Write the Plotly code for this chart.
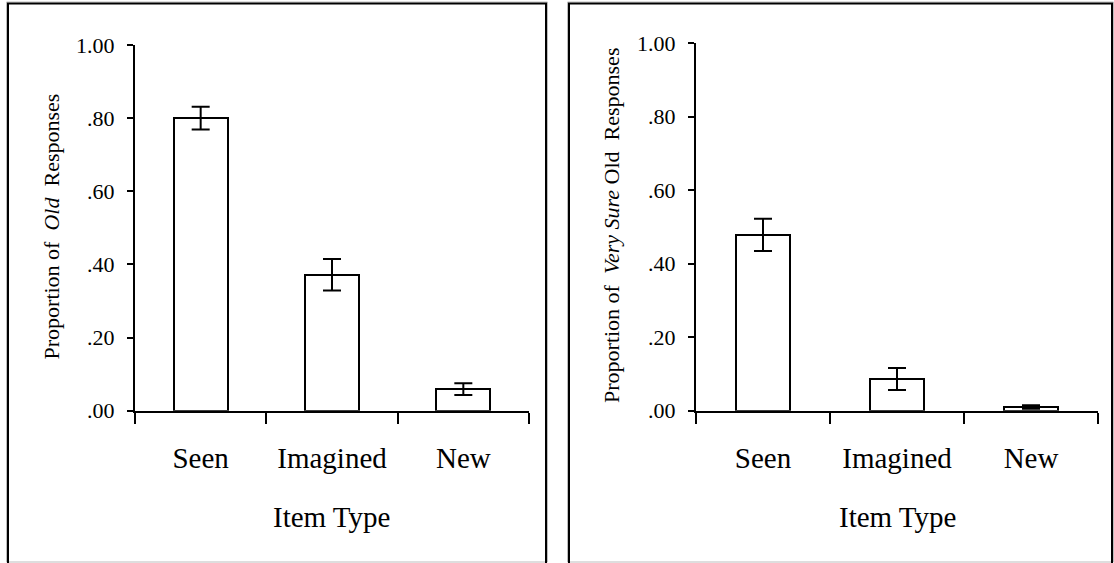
import plotly.graph_objects as go

W, H = 1114, 563

categories = ["Seen", "Imagined", "New"]
old_means = [0.80, 0.372, 0.059]
old_errors = [0.031, 0.043, 0.016]
sure_means = [0.478, 0.086, 0.010]
sure_errors = [0.044, 0.030, 0.005]
ytick_vals = [0, 0.2, 0.4, 0.6, 0.8, 1.0]
ytick_text = [".00", ".20", ".40", ".60", ".80", "1.00"]

FONT = "Liberation Serif, Times New Roman, serif"


def px_x(p):
    return p / W


def px_y(p):
    return 1 - p / H


fig = go.Figure()

for i, (means, errs) in enumerate([(old_means, old_errors), (sure_means, sure_errors)]):
    fig.add_trace(go.Bar(
        x=categories, y=means,
        xaxis="x" if i == 0 else "x2",
        yaxis="y" if i == 0 else "y2",
        width=0.41,
        marker=dict(color="white", line=dict(color="black", width=2)),
        error_y=dict(type="data", array=errs, visible=True, color="black",
                     thickness=2, width=9),
        showlegend=False,
    ))

xcommon = dict(
    type="category", showgrid=False, zeroline=False, automargin=False,
    showline=True, linecolor="black", linewidth=2,
    ticks="outside", ticklen=11, tickwidth=2, tickcolor="black",
    tickson="boundaries", range=[-0.5, 2.5],
    tickfont=dict(family=FONT, size=29, color="black"),
    ticklabelstandoff=20,
)
ycommon = dict(
    range=[0, 1], showgrid=False, zeroline=False, automargin=False,
    showline=True, linecolor="black", linewidth=2,
    ticks="outside", ticklen=6, tickwidth=2, tickcolor="black",
    tickvals=ytick_vals, ticktext=ytick_text,
    tickfont=dict(family=FONT, size=22, color="black"),
    ticklabelstandoff=8,
)

fig.update_layout(
    width=W, height=H,
    margin=dict(l=0, r=0, t=0, b=0, pad=0),
    paper_bgcolor="white", plot_bgcolor="white",
    bargap=0,
    xaxis=dict(domain=[px_x(135), px_x(529)], anchor="y", **xcommon),
    yaxis=dict(domain=[px_y(410.7), px_y(45)], anchor="x", **ycommon),
    xaxis2=dict(domain=[px_x(696), px_x(1098)], anchor="y2", **xcommon),
    yaxis2=dict(domain=[px_y(410.7), px_y(43)], anchor="x2", **ycommon),
)

shapes = []
for x0, x1 in [(8, 546), (569, 1112)]:
    shapes.append(dict(type="rect", xref="paper", yref="paper",
                       x0=px_x(x0 - 1.5), x1=px_x(x1 + 1.5), y0=px_y(562), y1=px_y(2),
                       line=dict(color="#bdbdbd", width=1), fillcolor="rgba(0,0,0,0)", layer="below"))
    shapes.append(dict(type="rect", xref="paper", yref="paper",
                       x0=px_x(x0), x1=px_x(x1), y0=px_y(575), y1=px_y(3.5),
                       line=dict(color="black", width=2), fillcolor="rgba(0,0,0,0)", layer="below"))
fig.update_layout(shapes=shapes)

annotations = [
    dict(text="Item Type", xref="paper", yref="paper", x=px_x(332), y=px_y(517),
         showarrow=False, font=dict(family=FONT, size=29, color="black"),
         xanchor="center", yanchor="middle"),
    dict(text="Item Type", xref="paper", yref="paper", x=px_x(897), y=px_y(517),
         showarrow=False, font=dict(family=FONT, size=29, color="black"),
         xanchor="center", yanchor="middle"),
    dict(text="Proportion of\u00a0 <i>Old</i>\u00a0 Responses", xref="paper", yref="paper",
         x=px_x(51.5), y=px_y(227), textangle=-90, showarrow=False,
         font=dict(family=FONT, size=22, color="black"),
         xanchor="center", yanchor="middle"),
    dict(text="Proportion of\u00a0 <i>Very Sure</i> Old\u00a0 Responses", xref="paper", yref="paper",
         x=px_x(612), y=px_y(226), textangle=-90, showarrow=False,
         font=dict(family=FONT, size=22, color="black"),
         xanchor="center", yanchor="middle"),
]
fig.update_layout(annotations=annotations)

fig.write_html(
    "out.html",
    config={"displayModeBar": False},
    post_script="document.body.style.margin='0';document.body.style.overflow='hidden';",
)
